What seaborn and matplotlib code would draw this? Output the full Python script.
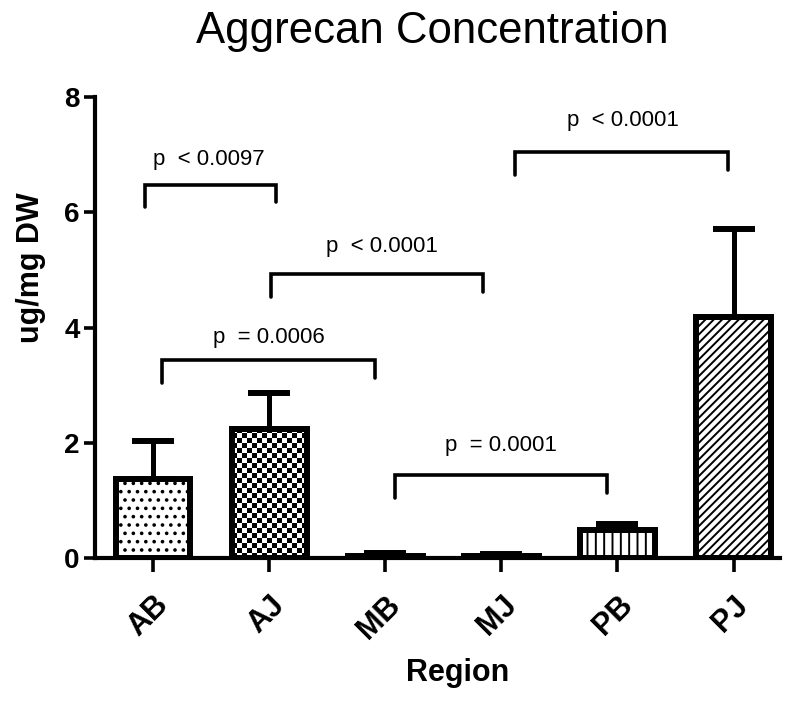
import numpy as np
import pandas as pd
import matplotlib
matplotlib.use("Agg")
import matplotlib.pyplot as plt
import seaborn as sns

# ---- data ----
regions = ["AB", "AJ", "MB", "MJ", "PB", "PJ"]
means = [1.37, 2.24, 0.04, 0.03, 0.49, 4.19]
sems = [0.66, 0.62, 0.05, 0.04, 0.10, 1.52]
hatches = ["..", None, None, None, "||", "////"]

# significance brackets (data units)
br_x1 = [-0.07, 1.02, 0.08, 2.08, 3.12]
br_x2 = [1.06, 2.84, 1.91, 3.91, 4.95]
br_y = [6.48, 4.93, 3.44, 1.44, 7.05]
br_left_end = [6.09, 4.53, 3.04, 1.04, 6.65]
br_right_end = [6.18, 4.62, 3.13, 1.13, 6.74]
p_labels = ["p  < 0.0097", "p  < 0.0001", "p  = 0.0006", "p  = 0.0001", "p  < 0.0001"]
p_text_x = [0.48, 1.97, 1.0, 3.0, 4.05]
p_text_y = [6.91, 5.40, 3.82, 1.96, 7.60]

df = pd.DataFrame({"Region": regions, "val": means})

sns.set_style("ticks")
plt.rcParams["font.family"] = ["Liberation Sans", "DejaVu Sans"]
plt.rcParams["hatch.linewidth"] = 1.4
plt.rcParams["hatch.color"] = "black"
plt.rcParams["text.color"] = "black"
plt.rcParams["xtick.color"] = "black"
plt.rcParams["ytick.color"] = "black"
plt.rcParams["axes.labelcolor"] = "black"

fig = plt.figure(figsize=(8, 7.06), dpi=100)
ax = fig.add_axes([95 / 800, 1 - 558 / 706, (780 - 95) / 800, (558 - 97) / 706])

sns.barplot(data=df, x="Region", y="val", ax=ax, color="white", width=0.645,
            errorbar=None, edgecolor="black", linewidth=4.3, saturation=1)

xs = np.arange(len(regions))
ax.errorbar(xs, means, yerr=[np.zeros(len(sems)), sems], fmt="none", ecolor="black",
            elinewidth=3.6, capsize=15, capthick=4.3, zorder=0.8)

patches = ax.patches[:len(regions)]
for p, h in zip(patches, hatches):
    p.set_facecolor("white")
    p.set_zorder(1)
    if h:
        p.set_hatch(h)

ax.set_xlim(-0.5, 5.4)
ax.set_ylim(0, 8)

# checkerboard texture for AJ
fig.canvas.draw()
pj = patches[1]
x0, w, h = pj.get_x(), pj.get_width(), pj.get_height()
(px0, py0) = ax.transData.transform((x0, 0))
(px1, py1) = ax.transData.transform((x0 + w, h))
cell = 5.0
nx = max(1, int(round((px1 - px0) / cell)))
ny = max(1, int(round((py1 - py0) / cell)))
checker = (np.add.outer(np.arange(ny), np.arange(nx)) % 2).astype(float)
pj.set_facecolor("none")
im = ax.imshow(checker, cmap="gray", extent=(x0, x0 + w, 0, h), aspect="auto",
               interpolation="nearest", zorder=0.9, origin="lower")
im.set_clip_path(pj)
ax.set_xlim(-0.5, 5.4)
ax.set_ylim(0, 8)

# brackets
for a, b, y, l, r, lab, tx, ty in zip(br_x1, br_x2, br_y, br_left_end, br_right_end,
                                       p_labels, p_text_x, p_text_y):
    ax.plot([a, a, b, b], [l, y, y, r], color="black", lw=2.6,
            solid_capstyle="round", solid_joinstyle="miter", clip_on=False, zorder=3)
    ax.text(tx, ty, lab, ha="center", va="center", fontsize=16, color="black")

ax.set_yticks([0, 2, 4, 6, 8])
ax.set_xlabel("")
ax.set_ylabel("")
for lbl in ax.get_yticklabels():
    lbl.set_fontweight("bold")
ax.set_xticks(xs)
ax.set_xticklabels(regions, rotation=45, ha="right", rotation_mode="anchor",
                   fontweight="bold")
ax.tick_params(axis="y", length=8, width=2.6, labelsize=20, pad=3, color="black")
ax.tick_params(axis="x", length=10, width=2.6, labelsize=22, pad=13, color="black")

sns.despine(ax=ax)
for s in ["left", "bottom"]:
    ax.spines[s].set_linewidth(3)
    ax.spines[s].set_color("black")

fig.text(432 / 800, 1 - 32 / 706, "Aggrecan Concentration", ha="center", va="center",
         fontsize=31.5, color="black")
fig.text(458 / 800, 1 - 673 / 706, "Region", ha="center", va="center",
         fontsize=22, fontweight="bold", color="black")
fig.text(31 / 800, 1 - 268 / 706, "ug/mg DW", ha="center", va="center",
         fontsize=22, fontweight="bold", rotation=90, color="black")

fig.savefig("out.png", dpi=100, facecolor="white")
